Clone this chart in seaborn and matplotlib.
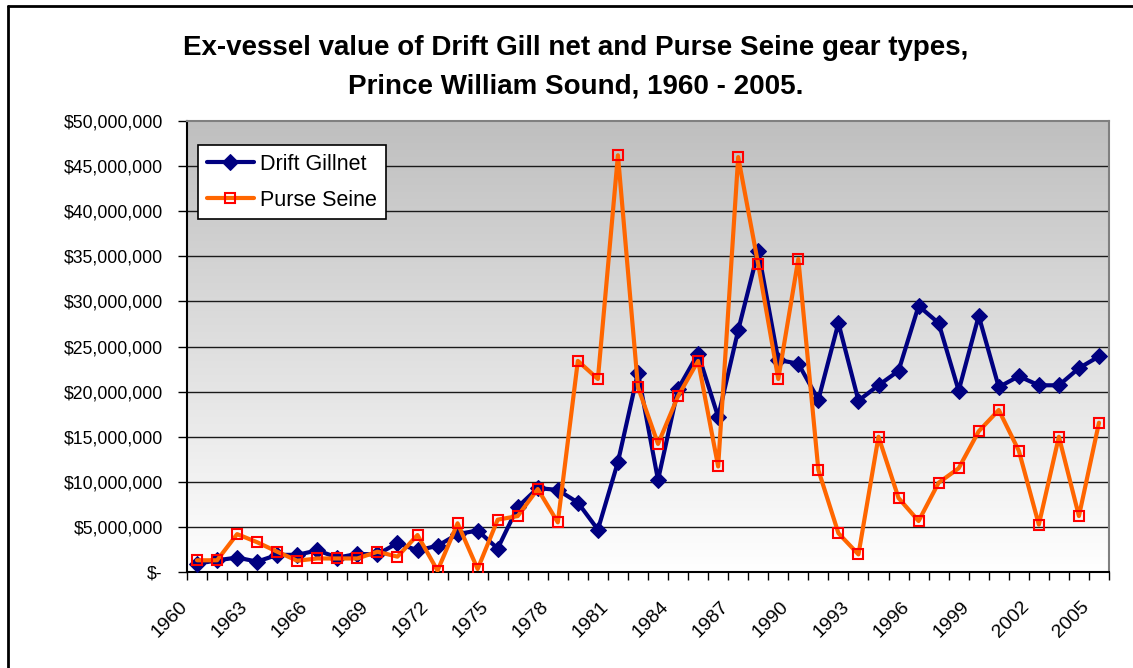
import numpy as np
import pandas as pd
import seaborn as sns
import matplotlib.pyplot as plt
from matplotlib.lines import Line2D
from matplotlib.ticker import FuncFormatter, FixedLocator
from matplotlib.transforms import ScaledTranslation

years = list(range(1960, 2006))

drift_gillnet = [0.9, 1.3, 1.6, 1.15, 1.9, 1.9, 2.4, 1.6, 2.0, 1.95,
                 3.2, 2.4, 2.9, 4.2, 4.6, 2.6, 7.2, 9.3, 9.1, 7.7,
                 4.7, 12.2, 22.1, 10.2, 20.3, 24.2, 17.2, 26.8, 35.6, 23.5,
                 23.1, 19.1, 27.6, 19.0, 20.7, 22.3, 29.5, 27.6, 20.1, 28.4,
                 20.5, 21.7, 20.7, 20.7, 22.6, 23.9]

purse_seine = [1.3, 1.3, 4.2, 3.3, 2.25, 1.25, 1.5, 1.5, 1.5, 2.25,
               1.7, 4.1, 0.15, 5.4, 0.33, 5.8, 6.2, 9.2, 5.5, 23.4,
               21.4, 46.2, 20.5, 14.2, 19.5, 23.4, 11.7, 46.0, 34.1, 21.4,
               34.7, 11.3, 4.3, 1.95, 15.0, 8.2, 5.65, 9.9, 11.5, 15.6,
               17.96, 13.45, 5.25, 15.0, 6.2, 16.55]

data = pd.DataFrame({
    "pos": np.arange(len(years)),
    "Drift Gillnet": np.array(drift_gillnet) * 1e6,
    "Purse Seine": np.array(purse_seine) * 1e6,
})

sns.set_style("white")
plt.rcParams["font.family"] = ["Liberation Sans", "DejaVu Sans"]
plt.rcParams["text.color"] = "black"
plt.rcParams["xtick.color"] = "black"
plt.rcParams["ytick.color"] = "black"

fig = plt.figure(figsize=(11.33, 6.68), dpi=100)
ax = fig.add_axes([187 / 1133, 1 - 572 / 668, (1109 - 187) / 1133, (572 - 121) / 668])

# grey-to-white gradient behind the plot
grad = np.linspace(0, 1, 256).reshape(-1, 1)
ax.imshow(grad, extent=[-0.5, 45.5, 0, 50e6], aspect="auto",
          cmap=plt.cm.colors.LinearSegmentedColormap.from_list("g", ["#bfbfbf", "#ffffff"]),
          origin="upper", zorder=0)

for v in range(5, 50, 5):
    ax.axhline(v * 1e6, color="#1a1a1a", lw=1, zorder=1)

sns.lineplot(data=data, x="pos", y="Drift Gillnet", ax=ax, color="#000080",
             lw=3, marker="D", markersize=8, markeredgecolor="#000080",
             label="Drift Gillnet", zorder=3)
sns.lineplot(data=data, x="pos", y="Purse Seine", ax=ax, color="#ff6600",
             lw=3, marker="s", markersize=7.5, markerfacecolor="none",
             markeredgecolor="#ff0000", markeredgewidth=1.5,
             label="Purse Seine", zorder=4)

ax.set_xlim(-0.5, 45.5)
ax.set_ylim(0, 50e6)
ax.set_xlabel("")
ax.set_ylabel("")

ax.set_yticks(np.arange(0, 50e6 + 1, 5e6))
ax.yaxis.set_major_formatter(FuncFormatter(lambda v, p: "$-" if v == 0 else f"${v:,.0f}"))
ax.tick_params(axis="y", direction="out", length=6.5, width=1, color="black",
               labelsize=12.7, pad=11, left=True)

ax.set_xticks(np.arange(0, 46, 3))
ax.set_xticklabels([str(years[i]) for i in range(0, 46, 3)], rotation=45,
                   ha="right", rotation_mode="anchor", fontsize=14)
ax.xaxis.set_minor_locator(FixedLocator(np.arange(-0.5, 46, 1)))
ax.tick_params(axis="x", which="major", length=0, pad=19)
ax.tick_params(axis="x", which="minor", direction="out", length=6, width=1,
               color="black", bottom=True)

# nudge the year labels left (after tick_params, which resets transforms)
shift = ScaledTranslation(-18 / 100, 0, fig.dpi_scale_trans)
for lab in ax.get_xticklabels():
    lab.set_transform(lab.get_transform() + shift)

for s in ["left", "bottom"]:
    ax.spines[s].set_color("black")
    ax.spines[s].set_linewidth(1.5)
for s in ["top", "right"]:
    ax.spines[s].set_color("#808080")
    ax.spines[s].set_linewidth(1.5)

leg = ax.legend(loc="upper left", bbox_to_anchor=(11 / 922, 1 - 24 / 451),
                fontsize=15.5, frameon=True, fancybox=False, borderpad=0.4,
                handlelength=2.2, handletextpad=0.3, labelspacing=0.7,
                borderaxespad=0)
leg.get_frame().set_edgecolor("black")
leg.get_frame().set_linewidth(1.2)
leg.get_frame().set_facecolor("white")
leg.get_frame().set_alpha(1)

fig.text(576 / 1133, 1 - 48 / 668, "Ex-vessel value of Drift Gill net and Purse Seine gear types,",
         ha="center", va="center", fontsize=20, fontweight="bold")
fig.text(576 / 1133, 1 - 86 / 668, "Prince William Sound, 1960 - 2005.",
         ha="center", va="center", fontsize=20, fontweight="bold")

# outer chart border
fig.add_artist(Line2D([8 / 1133, 8 / 1133], [0, 1 - 6 / 668], color="black", lw=2,
                      transform=fig.transFigure))
fig.add_artist(Line2D([8 / 1133, 1], [1 - 6 / 668, 1 - 6 / 668], color="black", lw=2,
                      transform=fig.transFigure))

fig.savefig("out.png", dpi=100)
